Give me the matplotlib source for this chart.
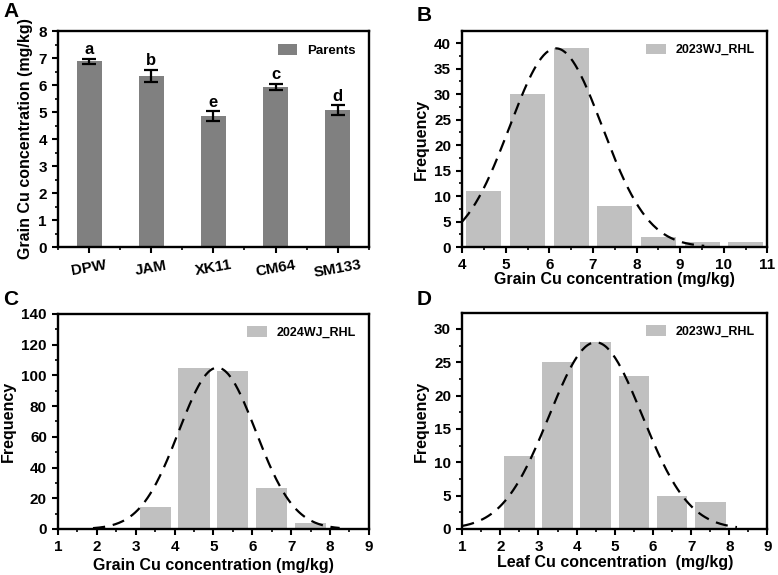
import numpy as np
import matplotlib
matplotlib.use('Agg')
import matplotlib.pyplot as plt
from matplotlib.ticker import MultipleLocator

plt.rcParams['font.family'] = ['Liberation Sans', 'DejaVu Sans']
plt.rcParams['font.weight'] = 'bold'
plt.rcParams['axes.labelweight'] = 'bold'

# A: parents
parents = ['DPW', 'JAM', 'XK11', 'CM64', 'SM133']
parent_mean = [6.88, 6.35, 4.85, 5.93, 5.08]
parent_err = [0.10, 0.22, 0.17, 0.12, 0.18]
parent_sig = ['a', 'b', 'e', 'c', 'd']

# B: 2023 grain
b_bins = [4.5, 5.5, 6.5, 7.5, 8.5, 9.5, 10.5]
b_freq = [11, 30, 39, 8, 2, 1, 1]
b_fit = dict(mu=6.15, sigma=1.06, peak=39, x0=4.0, x1=9.55)

# C: 2024 grain
c_bins = [3.5, 4.5, 5.5, 6.5, 7.5]
c_freq = [14, 105, 103, 27, 4]
c_fit = dict(mu=5.1, sigma=0.99, peak=105, x0=1.9, x1=8.25)

# D: 2023 leaf
d_bins = [2.5, 3.5, 4.5, 5.5, 6.5, 7.5]
d_freq = [11, 25, 28, 23, 5, 4]
d_fit = dict(mu=4.5, sigma=1.22, peak=28, x0=1.0, x1=8.2)

fig = plt.figure(figsize=(7.78, 5.75), dpi=100)
pos = {'A': [0.0746, 0.5704, 0.3994, 0.3756],
       'B': [0.594, 0.5704, 0.3925, 0.3756],
       'C': [0.0746, 0.080, 0.3994, 0.374],
       'D': [0.594, 0.080, 0.3925, 0.3757]}

def style(ax):
    for s in ax.spines.values():
        s.set_linewidth(1.7)
    ax.tick_params(which='major', direction='out', length=4.5, width=1.5, labelsize=11)
    ax.tick_params(which='minor', direction='out', length=2.5, width=1.2)
    for t in ax.get_xticklabels() + ax.get_yticklabels():
        t.set_fontweight('bold')

# panel A
ax = fig.add_axes(pos['A'])
x = np.arange(len(parents))
ax.bar(x, parent_mean, width=0.4, color='#808080', label='Parents')
ax.errorbar(x, parent_mean, yerr=parent_err, fmt='none', ecolor='black',
            elinewidth=1.6, capsize=5, capthick=1.6)
for xi, m, e, s in zip(x, parent_mean, parent_err, parent_sig):
    ax.text(xi, m + e + 0.05, s, ha='center', va='bottom', fontsize=12, fontweight='bold')
ax.set_xlim(-0.5, 4.5)
ax.set_ylim(0, 8)
ax.set_xticks(x)
ax.set_xticklabels(parents, rotation=10)
ax.xaxis.set_minor_locator(MultipleLocator(0.5))
ax.yaxis.set_major_locator(MultipleLocator(1))
ax.yaxis.set_minor_locator(MultipleLocator(0.5))
ax.set_ylabel('Grain Cu concentration (mg/kg)', fontsize=11.5)
style(ax)
ax.legend(loc='upper right', frameon=False, fontsize=9.5, handlelength=1.4,
          handleheight=0.9, borderaxespad=0.6)

def hist_panel(key, bins, freq, fit, xlim, ylim, ymaj, ymin, label, xlabel, pad):
    ax = fig.add_axes(pos[key])
    ax.bar(bins, freq, width=0.8, color='#c0c0c0', label=label)
    xs = np.linspace(fit['x0'], fit['x1'], 200)
    ys = fit['peak'] * np.exp(-(xs - fit['mu']) ** 2 / (2 * fit['sigma'] ** 2))
    ax.plot(xs, ys, color='black', lw=1.6, ls=(0, (5.5, 3.5)))
    ax.set_xlim(*xlim)
    ax.set_ylim(*ylim)
    ax.xaxis.set_major_locator(MultipleLocator(1))
    ax.xaxis.set_minor_locator(MultipleLocator(0.5))
    ax.yaxis.set_major_locator(MultipleLocator(ymaj))
    ax.yaxis.set_minor_locator(MultipleLocator(ymin))
    ax.set_ylabel('Frequency', fontsize=11.5)
    ax.set_xlabel(xlabel, fontsize=11.5, labelpad=pad)
    style(ax)
    ax.legend(loc='upper right', frameon=False, fontsize=9, handlelength=1.6,
              handleheight=0.9, borderaxespad=0.6)
    return ax

hist_panel('B', b_bins, b_freq, b_fit, (4, 11), (0, 42.4), 5, 2.5,
           '2023WJ_RHL', 'Grain Cu concentration (mg/kg)', 0)
hist_panel('C', c_bins, c_freq, c_fit, (1, 9), (0, 140), 20, 10,
           '2024WJ_RHL', 'Grain Cu concentration (mg/kg)', 3)
hist_panel('D', d_bins, d_freq, d_fit, (1, 9), (0, 32.4), 5, 2.5,
           '2023WJ_RHL', 'Leaf Cu concentration  (mg/kg)', 1)

for key, (px, py) in {'A': (0.004, 0.996), 'B': (0.535, 0.99),
                      'C': (0.004, 0.496), 'D': (0.535, 0.496)}.items():
    fig.text(px, py, key, fontsize=15, fontweight='bold', va='top')

fig.savefig('out.png', dpi=100)
